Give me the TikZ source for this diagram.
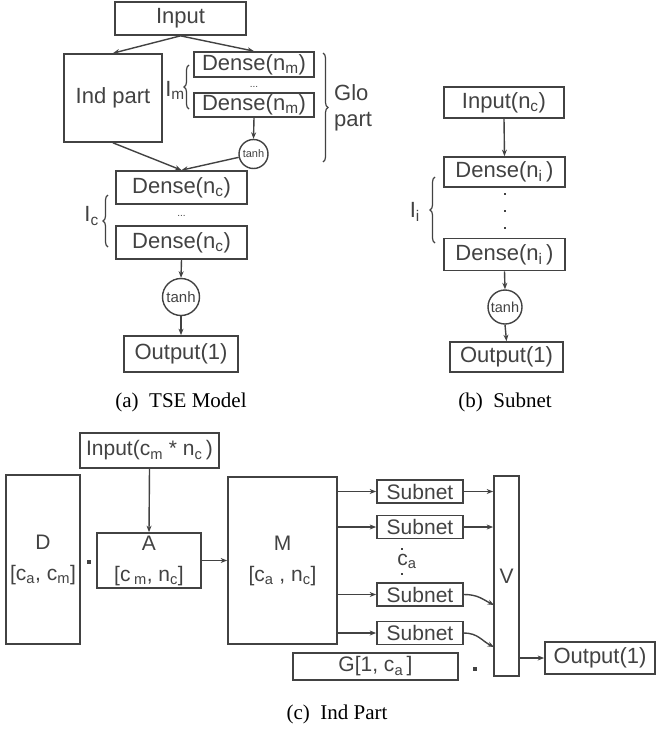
\documentclass[tikz,border=0pt]{standalone}
\usepackage{fontspec}
\setmainfont{Liberation Sans}
\newfontfamily\capfont{Liberation Serif}
\usetikzlibrary{arrows.meta,decorations.pathreplacing}
\definecolor{ink}{RGB}{66,66,66}
\begin{document}
\begin{tikzpicture}[x=1pt,y=-1pt,
 box/.style={draw=ink,line width=1.7pt,rectangle,inner sep=0pt,text=ink,font=\fontsize{22}{26}\selectfont},
 cbox/.style={box,font=\fontsize{21}{31}\selectfont,align=center},
 circ/.style={draw=ink,line width=1.4pt,circle,inner sep=0pt,text=ink},
 arr/.style={draw=ink,line width=1.4pt,-{Stealth[length=6.5pt,width=5pt]}},
 lbl/.style={text=ink,inner sep=0pt,font=\fontsize{22}{26}\selectfont},
 captxt/.style={inner sep=0pt,font=\capfont\fontsize{21}{24}\selectfont},
 brc/.style={draw=ink,line width=1.2pt,decorate,decoration={brace,amplitude=5pt}},
 sq/.style={fill=ink,minimum size=4pt,inner sep=0pt,rectangle},
 dotn/.style={fill=ink,minimum size=2.5pt,inner sep=0pt,rectangle},
 ell/.style={text=ink,inner sep=0pt,anchor=base,font=\fontsize{10}{10}\selectfont}
]
\useasboundingbox (0,0) rectangle (659,731);

% ---------- (a) TSE Model ----------
\node[box,minimum width=131pt,minimum height=33pt] (in) at (180.5,18.5) {Input};
\node[box,minimum width=98pt,minimum height=88pt] (ind) at (113,98) {Ind part};
\node[box,minimum width=120pt,minimum height=25pt] (dm1) at (254,64.5) {Dense(n\textsubscript{m})};
\node[ell] (dmd) at (254,87) {...};
\node[box,minimum width=120pt,minimum height=24pt] (dm2) at (254,105) {Dense(n\textsubscript{m})};
\node[circ,minimum size=29pt,font=\fontsize{11}{12}\selectfont] (t1) at (253.5,154) {tanh};
\node[box,minimum width=131pt,minimum height=33pt] (dc1) at (181.5,187.5) {Dense(n\textsubscript{c})};
\node[ell] (dcd) at (181.5,216) {...};
\node[box,minimum width=131pt,minimum height=33pt] (dc2) at (181.5,242.5) {Dense(n\textsubscript{c})};
\node[circ,minimum size=37pt,font=\fontsize{15}{16}\selectfont] (t2) at (181,297) {tanh};
\node[box,minimum width=114pt,minimum height=36pt] (oa) at (181,354) {Output(1)};

\draw[arr] (in.south) -- (ind.north);
\draw[arr] (in.south) -- (dm1.north);
\draw[arr] (dm2.south) -- (t1.north);
\draw[arr] (ind.south) -- (dc1.north);
\draw[arr] (t1) -- (dc1.north);
\draw[arr] (dc2.south) -- (t2.north);
\draw[arr] (t2.south) -- (oa.north);

\coordinate (imb) at (189,109); \coordinate (imt) at (189,65);
\draw[brc] (imb) -- (imt);
\node[lbl,anchor=east] (im) at (185,90) {I\textsubscript{m}};
\coordinate (gt) at (323,53); \coordinate (gb) at (323,162);
\draw[brc] (gt) -- (gb);
\node[lbl,anchor=west,align=left] (glo) at (334,108) {Glo\\part};
\coordinate (icb) at (108,247); \coordinate (ict) at (108,195);
\draw[brc] (icb) -- (ict);
\node[lbl,anchor=east] (ic) at (99,216) {I\textsubscript{c}};

\node[captxt] (capa) at (181,402) {(a)\ \ TSE Model};

% ---------- (b) Subnet ----------
\node[box,minimum width=120pt,minimum height=31pt] (inb) at (504,102.5) {Input(n\textsubscript{c})};
\node[box,minimum width=121pt,minimum height=30pt] (di1) at (504.5,172) {Dense(n\textsubscript{i}\,)};
\node[dotn] (bd1) at (505,194) {};
\node[dotn] (bd2) at (505,211) {};
\node[dotn] (bd3) at (505,228) {};
\node[box,minimum width=121pt,minimum height=32pt] (di2) at (504.5,254.5) {Dense(n\textsubscript{i}\,)};
\node[circ,minimum size=34pt,font=\fontsize{14.5}{16}\selectfont] (t3) at (505,307) {tanh};
\node[box,minimum width=113pt,minimum height=30pt] (ob) at (506.5,357) {Output(1)};
\draw[arr] (inb.south) -- (di1.north);
\draw[arr] (di2.south) -- (t3.north);
\draw[arr] (t3.south) -- (ob.north);
\coordinate (iib) at (435,243); \coordinate (iit) at (435,177);
\draw[brc] (iib) -- (iit);
\node[lbl,anchor=east] (ii) at (420,212) {I\textsubscript{i}};

\node[captxt] (capb) at (505,402) {(b)\ \ Subnet};

% ---------- (c) Ind Part ----------
\node[cbox,minimum width=139pt,minimum height=35pt] (inc) at (149.5,450.5) {Input(c\textsubscript{m} * n\textsubscript{c}\,)};
\node[cbox,minimum width=74pt,minimum height=169pt] (D) at (43,559.5) {D\\{[}c\textsubscript{a}, c\textsubscript{m}]};
\node[sq] (dot1) at (89,562) {};
\node[cbox,minimum width=104pt,minimum height=55pt] (A) at (149,560.5) {A\\{[}c\,\textsubscript{m}, n\textsubscript{c}]};
\node[cbox,minimum width=109pt,minimum height=167pt] (M) at (282.5,560.5) {M\\{[}c\textsubscript{a} , n\textsubscript{c}]};
\node[cbox,minimum width=86pt,minimum height=23pt] (s1) at (420,491.5) {Subnet};
\node[cbox,minimum width=86pt,minimum height=23pt] (s2) at (420,527) {Subnet};
\node[dotn] (cd1) at (402,549) {};
\node[lbl,font=\fontsize{21}{24}\selectfont] (ca) at (407,561) {c\textsubscript{a}};
\node[dotn] (cd2) at (402,574) {};
\node[cbox,minimum width=86pt,minimum height=23pt] (s3) at (420,594.5) {Subnet};
\node[cbox,minimum width=86pt,minimum height=23pt] (s4) at (420,633) {Subnet};
\node[cbox,minimum width=25pt,minimum height=200pt] (V) at (506.5,576) {V};
\node[cbox,minimum width=165pt,minimum height=27pt] (G) at (375.5,666.5) {G[1, c\textsubscript{a}\,]};
\node[sq] (dot2) at (475,669) {};
\node[box,minimum width=110pt,minimum height=32pt] (oc) at (600,658) {Output(1)};

\draw[arr] (inc.south) -- (A.north);
\draw[arr] (A.east) -- (M.west |- A.east);
\draw[arr] (M.east |- s1.west) -- (s1.west);
\draw[arr] (M.east |- s2.west) -- (s2.west);
\draw[arr] (M.east |- s3.west) -- (s3.west);
\draw[arr] (M.east |- s4.west) -- (s4.west);
\draw[arr] (s1.east) -- (V.west |- s1.east);
\draw[arr] (s2.east) -- (V.west |- s2.east);
\coordinate (v3) at (494,605);
\coordinate (v4) at (494,647);
\draw[arr] (s3.east) .. controls +(14,0) and +(-12,-6) .. (v3);
\draw[arr] (s4.east) .. controls +(14,0) and +(-12,-6) .. (v4);
\draw[arr] (V.east |- oc.west) -- (oc.west);

\node[captxt] (capc) at (337,714) {(c)\ \ Ind Part};
\end{tikzpicture}
\end{document}
